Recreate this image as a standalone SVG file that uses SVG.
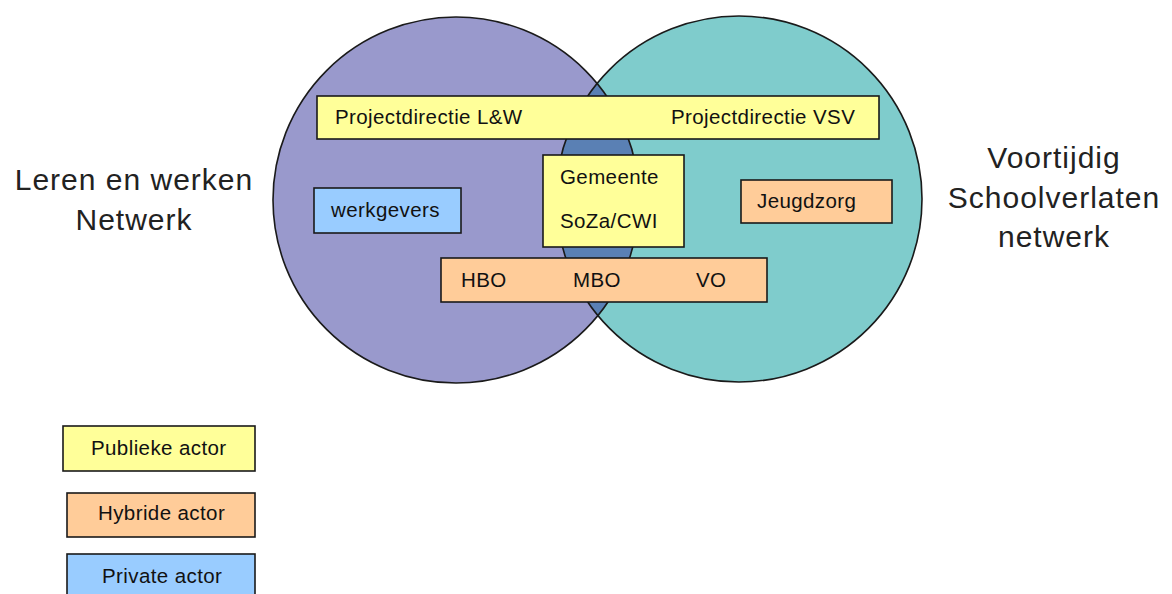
<svg xmlns="http://www.w3.org/2000/svg" width="1172" height="594" viewBox="0 0 1172 594">
  <style>
    text { font-family: "Liberation Sans", Arial, sans-serif; fill: #111; }
    .box { stroke: #1a1a1a; stroke-width: 1.6; }
    .pub { fill: #FFFF99; }
    .hyb { fill: #FFCC99; }
    .priv { fill: #99CCFF; }
    .lbl { font-size: 20.5px; letter-spacing: 0.4px; }
    .title { font-size: 30px; letter-spacing: 1px; text-anchor: middle; fill: #222; }
    .ring { fill: none; stroke: #1a1a1a; stroke-width: 1.6; }
  </style>
  <defs>
    <clipPath id="leftClip">
      <circle cx="456" cy="200" r="183"/>
    </clipPath>
  </defs>

  <!-- network circles -->
  <g id="network-circles">
    <circle cx="456" cy="200" r="183" fill="#9999CC"/>
    <circle cx="739" cy="199" r="183" fill="#7FCCCC"/>
    <circle cx="739" cy="199" r="183" fill="#5A80B4" clip-path="url(#leftClip)"/>
    <circle class="ring" cx="456" cy="200" r="183"/>
    <circle class="ring" cx="739" cy="199" r="183"/>
  </g>

  <!-- network titles -->
  <g id="title-lw">
    <text class="title" x="134" y="190">Leren en werken</text>
    <text class="title" x="134" y="230">Netwerk</text>
  </g>
  <g id="title-vsv">
    <text class="title" x="1054" y="168">Voortijdig</text>
    <text class="title" x="1054" y="208">Schoolverlaten</text>
    <text class="title" x="1054" y="247">netwerk</text>
  </g>

  <!-- actors -->
  <g id="projectdirectie">
    <rect class="box pub" x="317" y="96" width="562" height="43"/>
    <text class="lbl" x="335" y="124">Projectdirectie L&amp;W</text>
    <text class="lbl" x="671" y="124">Projectdirectie VSV</text>
  </g>
  <g id="werkgevers">
    <rect class="box priv" x="314" y="188" width="147" height="45"/>
    <text class="lbl" x="331" y="217">werkgevers</text>
  </g>
  <g id="gemeente">
    <rect class="box pub" x="543" y="155" width="141" height="92"/>
    <text class="lbl" x="560" y="184">Gemeente</text>
    <text class="lbl" x="560" y="228">SoZa/CWI</text>
  </g>
  <g id="jeugdzorg">
    <rect class="box hyb" x="741" y="180" width="151" height="43"/>
    <text class="lbl" x="757" y="208">Jeugdzorg</text>
  </g>
  <g id="onderwijs">
    <rect class="box hyb" x="441" y="258" width="326" height="44"/>
    <text class="lbl" x="461" y="287">HBO</text>
    <text class="lbl" x="573" y="287">MBO</text>
    <text class="lbl" x="696" y="287">VO</text>
  </g>

  <!-- legend -->
  <g id="legend-publiek">
    <rect class="box pub" x="63" y="426" width="192" height="45"/>
    <text class="lbl" x="91" y="455">Publieke actor</text>
  </g>
  <g id="legend-hybride">
    <rect class="box hyb" x="67" y="493" width="188" height="44"/>
    <text class="lbl" x="98" y="520">Hybride actor</text>
  </g>
  <g id="legend-privaat">
    <rect class="box priv" x="67" y="554" width="188" height="50"/>
    <text class="lbl" x="102" y="583">Private actor</text>
  </g>
</svg>
